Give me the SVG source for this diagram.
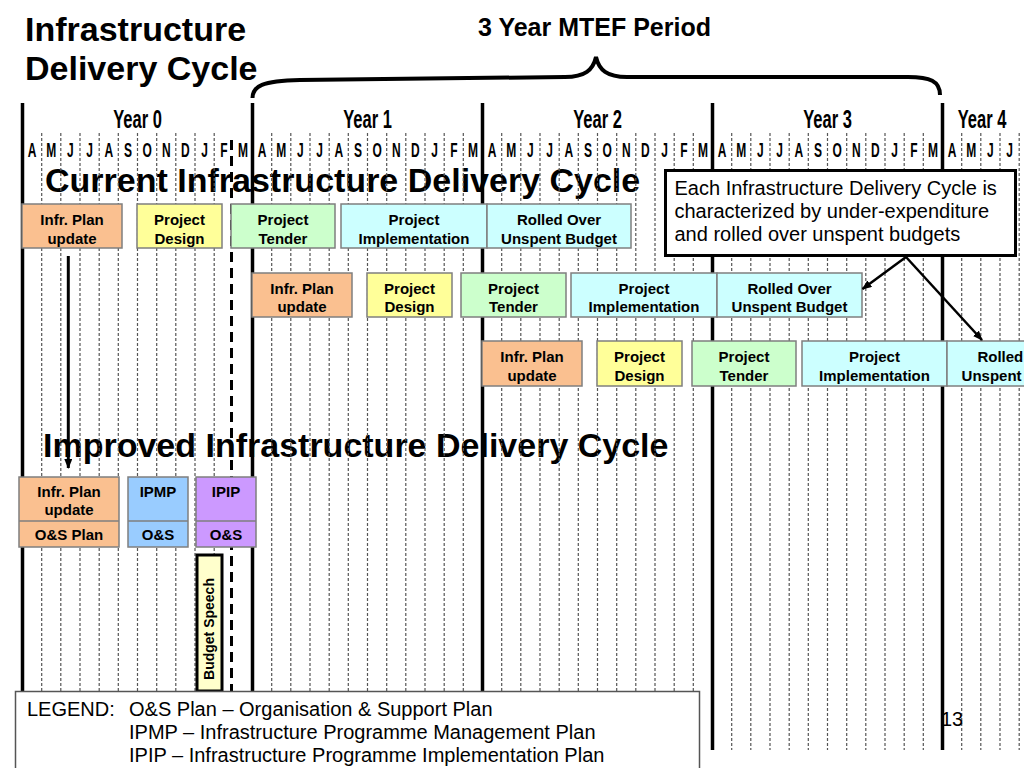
<svg xmlns="http://www.w3.org/2000/svg" width="1024" height="768" viewBox="0 0 1024 768">
<defs>
<style>
text{font-family:"Liberation Sans",Arial,Helvetica,sans-serif;fill:#000}
.h{font-weight:bold;font-size:34px}
.sub{font-weight:bold;font-size:25px}
.yr{font-weight:bold;font-size:25px;text-anchor:middle}
.mo{font-weight:bold;font-size:20px;text-anchor:middle}
.bx{font-weight:bold;font-size:15px;text-anchor:middle}
.reg{font-size:20px}
.grid{stroke:#555;stroke-width:1.2;stroke-dasharray:3 2;fill:none}
.thick{stroke:#000;stroke-width:3.5;fill:none}
.box{stroke:#7f7f7f;stroke-width:1.5}
.or{fill:#FAC090}.ye{fill:#FFFF99}.gr{fill:#CCFFCC}.cy{fill:#CCFFFF}.bl{fill:#99CCFF}.pu{fill:#CC99FF}
.con{stroke:#000;fill:none}
</style>
<marker id="ah" viewBox="0 0 10 8" refX="9" refY="4" markerWidth="10" markerHeight="8" markerUnits="userSpaceOnUse" orient="auto">
<path d="M0,0 L10,4 L0,8 z" fill="#000"/>
</marker>
</defs>
<rect width="1024" height="768" fill="#fff"/>

<g id="titles">
<text class="h" x="25" y="41">Infrastructure</text>
<text class="h" x="25" y="80">Delivery Cycle</text>
<text class="sub" x="478" y="36">3 Year MTEF Period</text>
<path d="M252.5,98 C252.5,86 262,81 300,80 L565,77 C585,77 593,70 596,57 C599,70 607,77 627,77 L908,77 C930,77 940,81 940,95" stroke="#000" stroke-width="4" fill="none"/>
<text class="h" x="45" y="192">Current Infrastructure Delivery Cycle</text>
<text class="h" x="43" y="457">Improved Infrastructure Delivery Cycle</text>
</g>

<g id="timeline">
<path class="grid" d="M41.7 133V750M60.8 133V750M80 133V750M99.2 133V750M118.3 133V750M137.5 133V750M156.7 133V750M175.8 133V750M195 133V750M214.2 133V750
M271.7 133V750M290.8 133V750M310 133V750M329.2 133V750M348.3 133V750M367.5 133V750M386.7 133V750M405.8 133V750M425 133V750M444.2 133V750M463.3 133V750
M501.7 133V750M520.8 133V750M540 133V750M559.2 133V750M578.3 133V750M597.5 133V750M616.7 133V750M635.8 133V750M655 133V750M674.2 133V750M693.3 133V750
M731.7 133V750M750.8 133V750M770 133V750M789.2 133V750M808.3 133V750M827.5 133V750M846.7 133V750M865.8 133V750M885 133V750M904.2 133V750M923.3 133V750
M961.7 133V750M980.8 133V750M1000 133V750M1019.2 133V750"/>
<path class="thick" d="M22.5 103V750M252.5 103V750M482.5 103V750M712.5 103V750M942.5 103V750"/>
<path d="M231.5 140V691" stroke="#000" stroke-width="3" stroke-dasharray="10 6"/>
<text class="yr" transform="translate(137.5 128) scale(.66 1)">Year 0</text>
<text class="yr" transform="translate(367.5 128) scale(.66 1)">Year 1</text>
<text class="yr" transform="translate(597.5 128) scale(.66 1)">Year 2</text>
<text class="yr" transform="translate(827.5 128) scale(.66 1)">Year 3</text>
<text class="yr" transform="translate(982 128) scale(.66 1)">Year 4</text>
<g id="months">
<text class="mo" transform="translate(32.1 157) scale(.6 1)">A</text>
<text class="mo" transform="translate(51.3 157) scale(.6 1)">M</text>
<text class="mo" transform="translate(70.4 157) scale(.6 1)">J</text>
<text class="mo" transform="translate(89.6 157) scale(.6 1)">J</text>
<text class="mo" transform="translate(108.8 157) scale(.6 1)">A</text>
<text class="mo" transform="translate(127.9 157) scale(.6 1)">S</text>
<text class="mo" transform="translate(147.1 157) scale(.6 1)">O</text>
<text class="mo" transform="translate(166.3 157) scale(.6 1)">N</text>
<text class="mo" transform="translate(185.4 157) scale(.6 1)">D</text>
<text class="mo" transform="translate(204.6 157) scale(.6 1)">J</text>
<text class="mo" transform="translate(223.8 157) scale(.6 1)">F</text>
<text class="mo" transform="translate(242.9 157) scale(.6 1)">M</text>
<text class="mo" transform="translate(262.1 157) scale(.6 1)">A</text>
<text class="mo" transform="translate(281.3 157) scale(.6 1)">M</text>
<text class="mo" transform="translate(300.4 157) scale(.6 1)">J</text>
<text class="mo" transform="translate(319.6 157) scale(.6 1)">J</text>
<text class="mo" transform="translate(338.8 157) scale(.6 1)">A</text>
<text class="mo" transform="translate(357.9 157) scale(.6 1)">S</text>
<text class="mo" transform="translate(377.1 157) scale(.6 1)">O</text>
<text class="mo" transform="translate(396.3 157) scale(.6 1)">N</text>
<text class="mo" transform="translate(415.4 157) scale(.6 1)">D</text>
<text class="mo" transform="translate(434.6 157) scale(.6 1)">J</text>
<text class="mo" transform="translate(453.8 157) scale(.6 1)">F</text>
<text class="mo" transform="translate(472.9 157) scale(.6 1)">M</text>
<text class="mo" transform="translate(492.1 157) scale(.6 1)">A</text>
<text class="mo" transform="translate(511.3 157) scale(.6 1)">M</text>
<text class="mo" transform="translate(530.4 157) scale(.6 1)">J</text>
<text class="mo" transform="translate(549.6 157) scale(.6 1)">J</text>
<text class="mo" transform="translate(568.8 157) scale(.6 1)">A</text>
<text class="mo" transform="translate(587.9 157) scale(.6 1)">S</text>
<text class="mo" transform="translate(607.1 157) scale(.6 1)">O</text>
<text class="mo" transform="translate(626.3 157) scale(.6 1)">N</text>
<text class="mo" transform="translate(645.4 157) scale(.6 1)">D</text>
<text class="mo" transform="translate(664.6 157) scale(.6 1)">J</text>
<text class="mo" transform="translate(683.8 157) scale(.6 1)">F</text>
<text class="mo" transform="translate(702.9 157) scale(.6 1)">M</text>
<text class="mo" transform="translate(722.1 157) scale(.6 1)">A</text>
<text class="mo" transform="translate(741.3 157) scale(.6 1)">M</text>
<text class="mo" transform="translate(760.4 157) scale(.6 1)">J</text>
<text class="mo" transform="translate(779.6 157) scale(.6 1)">J</text>
<text class="mo" transform="translate(798.8 157) scale(.6 1)">A</text>
<text class="mo" transform="translate(817.9 157) scale(.6 1)">S</text>
<text class="mo" transform="translate(837.1 157) scale(.6 1)">O</text>
<text class="mo" transform="translate(856.3 157) scale(.6 1)">N</text>
<text class="mo" transform="translate(875.4 157) scale(.6 1)">D</text>
<text class="mo" transform="translate(894.6 157) scale(.6 1)">J</text>
<text class="mo" transform="translate(913.8 157) scale(.6 1)">F</text>
<text class="mo" transform="translate(932.9 157) scale(.6 1)">M</text>
<text class="mo" transform="translate(952.1 157) scale(.6 1)">A</text>
<text class="mo" transform="translate(971.3 157) scale(.6 1)">M</text>
<text class="mo" transform="translate(990.4 157) scale(.6 1)">J</text>
<text class="mo" transform="translate(1009.6 157) scale(.6 1)">J</text>
</g>
</g>

<g id="current-row1">
<g id="c1-plan"><rect class="box or" x="22" y="204" width="100" height="44"/><text class="bx" x="72" y="225">Infr. Plan</text><text class="bx" x="72" y="243.5">update</text></g>
<g id="c1-design"><rect class="box ye" x="137" y="204" width="85" height="44"/><text class="bx" x="179.5" y="225">Project</text><text class="bx" x="179.5" y="243.5">Design</text></g>
<g id="c1-tender"><rect class="box gr" x="231" y="204" width="104" height="44"/><text class="bx" x="283" y="225">Project</text><text class="bx" x="283" y="243.5">Tender</text></g>
<g id="c1-impl"><rect class="box cy" x="341" y="204" width="146" height="44"/><text class="bx" x="414" y="225">Project</text><text class="bx" x="414" y="243.5">Implementation</text></g>
<g id="c1-rolled"><rect class="box cy" x="487" y="204" width="144" height="44"/><text class="bx" x="559" y="225">Rolled Over</text><text class="bx" x="559" y="243.5">Unspent Budget</text></g>
</g>

<g id="current-row2">
<g id="c2-plan"><rect class="box or" x="252" y="273" width="100" height="44"/><text class="bx" x="302" y="293.5">Infr. Plan</text><text class="bx" x="302" y="312">update</text></g>
<g id="c2-design"><rect class="box ye" x="367" y="273" width="85" height="44"/><text class="bx" x="409.5" y="293.5">Project</text><text class="bx" x="409.5" y="312">Design</text></g>
<g id="c2-tender"><rect class="box gr" x="461" y="273" width="105" height="44"/><text class="bx" x="513.5" y="293.5">Project</text><text class="bx" x="513.5" y="312">Tender</text></g>
<g id="c2-impl"><rect class="box cy" x="571" y="273" width="146" height="44"/><text class="bx" x="644" y="293.5">Project</text><text class="bx" x="644" y="312">Implementation</text></g>
<g id="c2-rolled"><rect class="box cy" x="717" y="273" width="145" height="44"/><text class="bx" x="789.5" y="293.5">Rolled Over</text><text class="bx" x="789.5" y="312">Unspent Budget</text></g>
</g>

<g id="current-row3">
<g id="c3-plan"><rect class="box or" x="482" y="341" width="100" height="45"/><text class="bx" x="532" y="362">Infr. Plan</text><text class="bx" x="532" y="380.5">update</text></g>
<g id="c3-design"><rect class="box ye" x="597" y="341" width="85" height="45"/><text class="bx" x="639.5" y="362">Project</text><text class="bx" x="639.5" y="380.5">Design</text></g>
<g id="c3-tender"><rect class="box gr" x="692" y="341" width="104" height="45"/><text class="bx" x="744" y="362">Project</text><text class="bx" x="744" y="380.5">Tender</text></g>
<g id="c3-impl"><rect class="box cy" x="802" y="341" width="145" height="45"/><text class="bx" x="874.5" y="362">Project</text><text class="bx" x="874.5" y="380.5">Implementation</text></g>
<g id="c3-rolled"><rect class="box cy" x="947" y="341" width="145" height="45"/><text class="bx" x="1019.5" y="362">Rolled Over</text><text class="bx" x="1019.5" y="380.5">Unspent Budget</text></g>
</g>

<g id="improved">
<g id="i-plan"><rect class="box or" x="19" y="477" width="100" height="70"/><path d="M19 521H119" stroke="#7f7f7f" stroke-width="1.5"/><text class="bx" x="69" y="496.5">Infr. Plan</text><text class="bx" x="69" y="515">update</text><text class="bx" x="69" y="540">O&amp;S Plan</text></g>
<g id="i-ipmp"><rect class="box bl" x="128" y="477" width="60" height="70"/><path d="M128 521H188" stroke="#7f7f7f" stroke-width="1.5"/><text class="bx" x="158" y="497">IPMP</text><text class="bx" x="158" y="540">O&amp;S</text></g>
<g id="i-ipip"><rect class="box pu" x="196" y="477" width="60" height="70"/><path d="M196 521H256" stroke="#7f7f7f" stroke-width="1.5"/><text class="bx" x="226" y="497">IPIP</text><text class="bx" x="226" y="540">O&amp;S</text></g>
<g id="budget-speech"><rect x="197" y="555" width="25" height="136" fill="#FFFFCC" stroke="#000" stroke-width="3"/><text class="bx" style="font-size:14px" transform="translate(213.5 629) rotate(-90)">Budget Speech</text></g>
</g>

<g id="callout">
<rect x="665.5" y="170.5" width="350" height="85" fill="#fff" stroke="#000" stroke-width="3"/>
<text class="reg" x="674.5" y="195">Each Infrastructure Delivery Cycle is</text>
<text class="reg" x="674.5" y="218">characterized by under-expenditure</text>
<text class="reg" x="674.5" y="241">and rolled over unspent budgets</text>
</g>

<g id="connectors">
<path class="con" d="M68.3 256V468" stroke-width="3" marker-end="url(#ah)"/>
<path class="con" d="M906 257L862.5 289" stroke-width="2.5" marker-end="url(#ah)"/>
<path class="con" d="M906 257L982 340" stroke-width="2.5" marker-end="url(#ah)"/>
</g>

<g id="legend">
<rect x="15.5" y="691.5" width="684" height="80" fill="#fff" stroke="#555" stroke-width="1.5"/>
<text class="reg" x="27" y="716">LEGEND:</text>
<text class="reg" x="129" y="716">O&amp;S Plan – Organisation &amp; Support Plan</text>
<text class="reg" x="129" y="739">IPMP – Infrastructure Programme Management Plan</text>
<text class="reg" x="129" y="762">IPIP – Infrastructure Programme Implementation Plan</text>
</g>
<text class="reg" x="941" y="726">13</text>
</svg>
